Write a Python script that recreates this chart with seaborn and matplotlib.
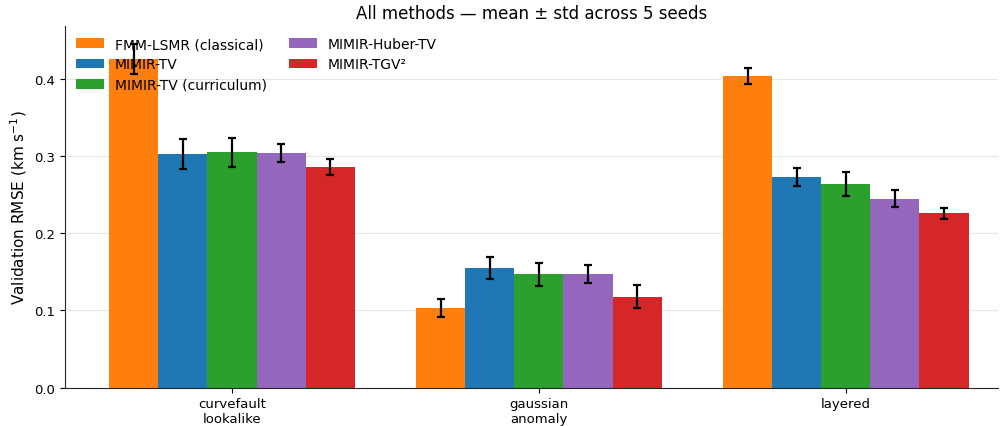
import numpy as np
import pandas as pd
import seaborn as sns
import matplotlib
matplotlib.use("Agg")
import matplotlib.pyplot as plt

# data
scenes = ["curvefault\nlookalike", "gaussian\nanomaly", "layered"]
methods = ["FMM-LSMR (classical)", "MIMIR-TV", "MIMIR-TV (curriculum)",
           "MIMIR-Huber-TV", "MIMIR-TGV²"]
colors = ["#ff7f0e", "#1f77b4", "#2ca02c", "#9467bd", "#d62728"]

mean_fmm = [0.426, 0.103, 0.404]
mean_tv = [0.303, 0.155, 0.273]
mean_tv_cur = [0.305, 0.147, 0.264]
mean_huber = [0.304, 0.147, 0.245]
mean_tgv = [0.286, 0.118, 0.226]

std_fmm = [0.019, 0.012, 0.010]
std_tv = [0.019, 0.014, 0.012]
std_tv_cur = [0.019, 0.015, 0.015]
std_huber = [0.012, 0.012, 0.011]
std_tgv = [0.010, 0.015, 0.007]

means = [mean_fmm, mean_tv, mean_tv_cur, mean_huber, mean_tgv]
stds = [std_fmm, std_tv, std_tv_cur, std_huber, std_tgv]

rows = []
for m, mv, sv in zip(methods, means, stds):
    for s, v, e in zip(scenes, mv, sv):
        rows.append({"scene": s, "method": m, "rmse": v, "std": e})
df = pd.DataFrame(rows)

sns.set_style("ticks")
plt.rcParams.update({"xtick.color": "black", "ytick.color": "black",
                     "axes.labelcolor": "black", "text.color": "black"})
fig, ax = plt.subplots(figsize=(10, 4.27), dpi=100)
sns.barplot(data=df, x="scene", y="rmse", hue="method", hue_order=methods,
            order=scenes, palette=colors, saturation=1, errorbar=None,
            width=0.8, linewidth=0, ax=ax)

# std error bars on top of each bar
for cont, m in zip(ax.containers, methods):
    sub = df[df["method"] == m].set_index("scene").loc[scenes]
    xs = [b.get_x() + b.get_width() / 2 for b in cont]
    ys = [b.get_height() for b in cont]
    ax.errorbar(xs, ys, yerr=sub["std"].values, fmt="none", ecolor="black",
                elinewidth=1.6, capsize=3, capthick=1.6, zorder=5)

ax.set_xlim(-0.544, 2.496)
ax.set_ylim(0, 0.469)
ax.set_yticks([0.0, 0.1, 0.2, 0.3, 0.4])
ax.yaxis.grid(True, color="#e6e6e6", linewidth=0.8)
ax.set_axisbelow(True)
ax.set_xlabel("")
ax.set_ylabel("Validation RMSE (km s$^{-1}$)", fontsize=11)
ax.set_title("All methods — mean ± std across 5 seeds", fontsize=12)
ax.tick_params(labelsize=9.5)
sns.despine(ax=ax)
ax.legend(loc="upper left", ncol=2, frameon=False, fontsize=10,
          columnspacing=1.6, handlelength=2.0, labelspacing=0.45,
          borderaxespad=0.4)

plt.subplots_adjust(left=0.065, right=0.998, top=0.937, bottom=0.09)
plt.savefig("out.png", dpi=100)
